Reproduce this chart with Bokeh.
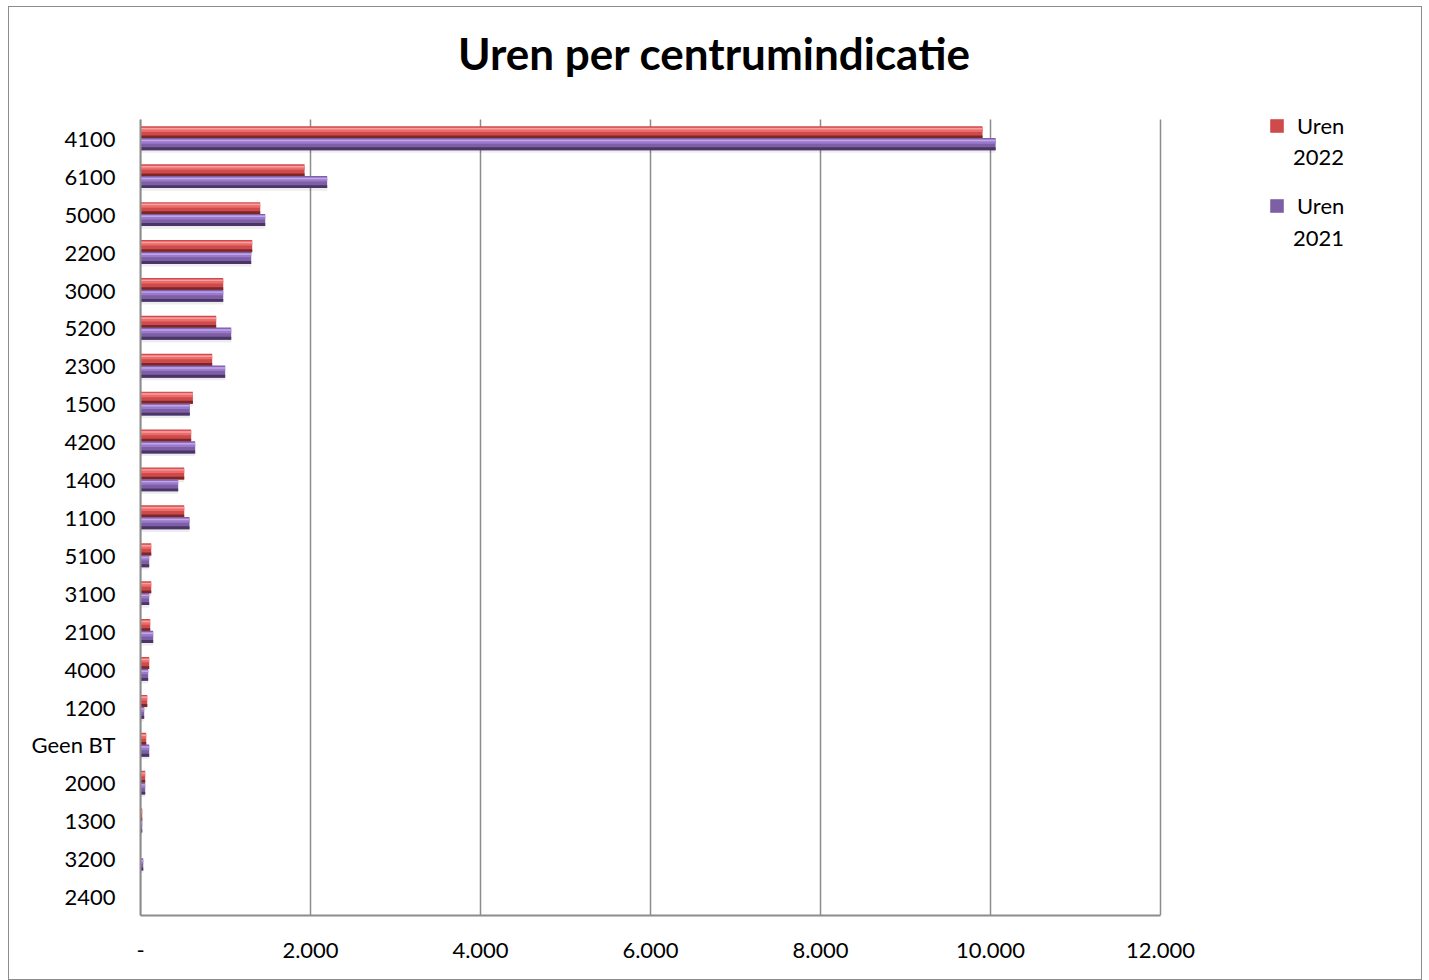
from bokeh.plotting import figure
from bokeh.models import (Range1d, ColumnDataSource, FixedTicker, CustomJSTickFormatter,
                          Legend, LegendItem, Label)
from bokeh.transform import dodge
from bokeh.embed import file_html
from bokeh.resources import INLINE

title_text = "Uren per centrumindicatie"
categories = ["4100", "6100", "5000", "2200", "3000", "5200", "2300", "1500", "4200", "1400",
              "1100", "5100", "3100", "2100", "4000", "1200", "Geen BT", "2000", "1300", "3200", "2400"]
uren_2022 = [9906, 1930, 1408, 1314, 973, 890, 843, 616, 596, 514,
             514, 126, 126, 114, 102, 79, 67, 55, 20, 3, 4]
uren_2021 = [10060, 2196, 1467, 1302, 973, 1067, 996, 580, 643, 443,
             576, 102, 102, 149, 90, 43, 102, 55, 20, 32, 4]
x_ticks = [0, 2000, 4000, 6000, 8000, 10000, 12000]
legend_word = "Uren"
legend_years = ["2022", "2021"]

FONT = "Lato"

n = len(categories)
ypos = [n - 1 - i for i in range(n)]          # first category at the top
src = ColumnDataSource(dict(cat=categories, y=ypos, v22=uren_2022, v21=uren_2021))

# frame geometry (pixels)
W, HGT, MB_L, MB_R, MB_B = 1414, 974, 131, 8, 66
frame_w = W - MB_L - MB_R
frame_h = HGT - MB_B
axis_w, cat_h = 1020.0, 796.0              # pixel length of value axis / category block
x_end = x_ticks[-1] * frame_w / axis_w
y_top = -0.5 + n * frame_h / cat_h

p = figure(width=W, height=HGT, output_backend="svg", toolbar_location=None,
           x_range=Range1d(0, x_end), y_range=Range1d(-0.5, y_top),
           min_border_left=MB_L, min_border_right=MB_R, min_border_top=0, min_border_bottom=MB_B)
p.styles = {"border": "1px solid #8c8c8c", "margin-left": "8px", "margin-top": "6px"}
p.outline_line_color = None

# value grid lines (only over the category block)
p.segment(x0=x_ticks, x1=x_ticks, y0=[-0.5] * len(x_ticks), y1=[n - 0.5] * len(x_ticks),
          line_color="#8c8c8c", line_width=1.5)

H = 0.32
series = [("v22", 0.16, "#CF4A4A", "#EC6C6C", "#F7A0A0", "#7C2626"),
          ("v21", -0.15, "#7D5FA6", "#9C7ACB", "#C2A6EC", "#4A3566")]
main_renderers = []
for col, off, mid, light, hi, dark in series:
    p.hbar(y=dodge("y", off - 0.07), right=col, height=H, left=0,
           source=src, fill_color="#000000", fill_alpha=0.07, line_color=None)
    r = p.hbar(y=dodge("y", off), right=col, height=H, left=0,
               source=src, fill_color=mid, line_color=None)
    main_renderers.append(r)
    p.hbar(y=dodge("y", off - H * 0.38), right=col, height=H * 0.24, left=0,
           source=src, fill_color=dark, line_color=None)
    p.hbar(y=dodge("y", off + H * 0.22), right=col, height=H * 0.36, left=0,
           source=src, fill_color=light, line_color=None)
    p.hbar(y=dodge("y", off + H * 0.30), right=col, height=H * 0.12, left=0,
           source=src, fill_color=hi, line_color=None)

ghost = p.hbar(y="y", right="v22", height=H, left=0, source=src, fill_alpha=0, line_alpha=0)

# axes
p.xaxis.ticker = FixedTicker(ticks=x_ticks)
p.xaxis.bounds = (x_ticks[0], x_ticks[-1])
p.xaxis.formatter = CustomJSTickFormatter(code="""
if (tick == 0) { return '-'; }
return Math.round(tick).toString().replace(/\\B(?=(\\d{3})+(?!\\d))/g, '.');
""")
p.yaxis.ticker = FixedTicker(ticks=ypos)
p.yaxis.major_label_overrides = {y: c for y, c in zip(ypos, categories)}
p.yaxis.bounds = (-0.5, n - 0.5)
for ax in (p.xaxis[0], p.yaxis[0]):
    ax.major_label_text_font = FONT
    ax.major_label_text_font_size = "22px"
    ax.major_label_text_color = "#000000"
    ax.major_tick_line_color = None
    ax.minor_tick_line_color = None
    ax.major_tick_out = 0
    ax.major_tick_in = 0
    ax.axis_line_color = "#8c8c8c"
    ax.axis_line_width = 2
p.xaxis.major_label_standoff = 27
p.yaxis.major_label_standoff = 25
p.xgrid.grid_line_color = None
p.ygrid.grid_line_color = None

# title
p.add_layout(Label(x=574, y=863, x_units="screen", y_units="screen", text=title_text,
                   text_font=FONT, text_font_style="bold", text_font_size="44px",
                   text_color="#000000", text_align="center", text_baseline="alphabetic"))


def style_legend(lg):
    lg.label_text_font = FONT
    lg.label_text_font_size = "22px"
    lg.label_text_color = "#000000"
    lg.label_height = 28
    lg.padding = 0
    lg.margin = 0
    lg.border_line_color = None
    lg.background_fill_alpha = 0


legend_a = Legend(items=[LegendItem(label=legend_word, renderers=[main_renderers[0]]),
                         LegendItem(label=legend_word, renderers=[main_renderers[1]])],
                  location=(1128, 696))
style_legend(legend_a)
legend_a.glyph_width = 17
legend_a.glyph_height = 17
legend_a.label_standoff = 12
legend_a.spacing = 52
p.add_layout(legend_a)

legend_b = Legend(items=[LegendItem(label=legend_years[0], renderers=[ghost]),
                         LegendItem(label=legend_years[1], renderers=[ghost])],
                  location=(1153, 664))
style_legend(legend_b)
legend_b.glyph_width = 0
legend_b.glyph_height = 14
legend_b.label_standoff = 0
legend_b.spacing = 53
p.add_layout(legend_b)

open("out.html", "w").write(file_html(p, INLINE))
